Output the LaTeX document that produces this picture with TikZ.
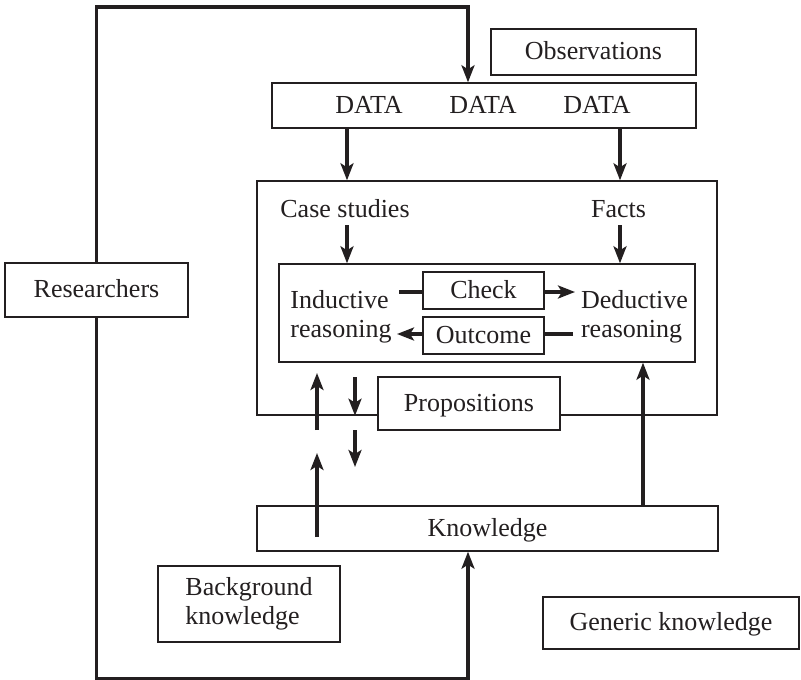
\documentclass[tikz,border=0pt]{standalone}
\usepackage{fontspec}
\setmainfont{Liberation Serif}
\usetikzlibrary{arrows.meta,calc}
\pgfdeclarelayer{bg}
\pgfsetlayers{bg,main}
\definecolor{ink}{HTML}{231F20}
\begin{document}
\begin{tikzpicture}[x=1pt,y=-1pt,font=\fontsize{26}{29}\selectfont,
  bx/.style={draw=ink,line width=1.4pt,fill=white,inner sep=0pt,text=ink},
  one/.style={text height=18pt,text depth=2.6pt},
  txt/.style={inner sep=0pt,text=ink},
  arr/.style={draw=ink,line width=3.1pt,-{Stealth[length=17pt,width=13pt,inset=4pt]}},
  ln/.style={draw=ink,line width=3.1pt}]
\useasboundingbox (0,0) rectangle (801,680);
% boxes
\node[bx,minimum width=460pt,minimum height=234pt] (outer) at (487,298) {};
\node[bx,minimum width=416pt,minimum height=98pt] (inner) at (487,313) {};
\node[bx,minimum width=424pt,minimum height=45pt] (data) at (484,105.5) {};
\node[bx,one,minimum width=205pt,minimum height=46pt] (obs) at (593.5,52) {Observations};
\node[bx,one,minimum width=183pt,minimum height=54pt] (res) at (96.5,290) {Researchers};
\node[bx,one,minimum width=121pt,minimum height=37pt] (check) at (483.5,290.5) {Check};
\node[bx,one,minimum width=121pt,minimum height=37pt] (outc) at (483.5,335.5) {Outcome};
\node[bx,one,minimum width=182pt,minimum height=53pt] (prop) at (469,403.5) {Propositions};
\node[bx,one,minimum width=461pt,minimum height=45pt] (know) at (487.5,528.5) {Knowledge};
\node[bx,align=left,minimum width=182pt,minimum height=76pt] (back) at (249,604) {Background\\knowledge};
\node[bx,one,minimum width=256pt,minimum height=52pt] (gen) at (671,623) {Generic knowledge};
% texts
\node[txt,anchor=base] (d1) at (369,113) {DATA};
\node[txt,anchor=base] (d2) at (483,113) {DATA};
\node[txt,anchor=base] (d3) at (597,113) {DATA};
\node[txt,anchor=base] (cs) at (345,217) {Case studies};
\node[txt,anchor=base] (facts) at (618.5,217) {Facts};
\node[txt,align=left] (ind) at (341,316.5) {Inductive\\reasoning};
\node[txt,align=left] (ded) at (634.5,316.5) {Deductive\\reasoning};
% coordinates
\coordinate (ltop) at (468,7);
\coordinate (lbot) at (468,678.4);
\coordinate (cL) at (347,225);
\coordinate (cR) at (620,225);
\coordinate (ci) at (399,292);
\coordinate (ce) at (575,292);
\coordinate (oe) at (573,334);
\coordinate (oi) at (397,334);
\coordinate (u1a) at (317,430);
\coordinate (u1b) at (317,373);
\coordinate (d1a) at (355,377);
\coordinate (d2a) at (355,430);
\coordinate (d2b) at (355,467);
\coordinate (u2a) at (317,537);
\coordinate (u2b) at (317,453);
\coordinate (kr) at (643,0);
% loop
\begin{pgfonlayer}{bg}
\draw[arr] (res.north) |- (ltop) -- (ltop |- data.north);
\draw[arr] (res.south) |- (lbot) -- (lbot |- know.south);
\end{pgfonlayer}
% connectors
\draw[arr] (data.south -| cL) -- (outer.north -| cL);
\draw[arr] (data.south -| cR) -- (outer.north -| cR);
\draw[arr] (cL) -- (cL |- inner.north);
\draw[arr] (cR) -- (cR |- inner.north);
\draw[ln] (ci) -- (ci -| check.west);
\draw[arr] (ci -| check.east) -- (ce);
\draw[ln] (oe) -- (oe -| outc.east);
\draw[arr] (oe -| outc.west) -- (oi);
\draw[arr] (u1a) -- (u1b);
\draw[arr] (d1a) -- (d1a |- outer.south);
\draw[arr] (d2a) -- (d2b);
\draw[arr] (u2a) -- (u2b);
\draw[arr] (know.north -| kr) -- (inner.south -| kr);
\end{tikzpicture}
\end{document}
